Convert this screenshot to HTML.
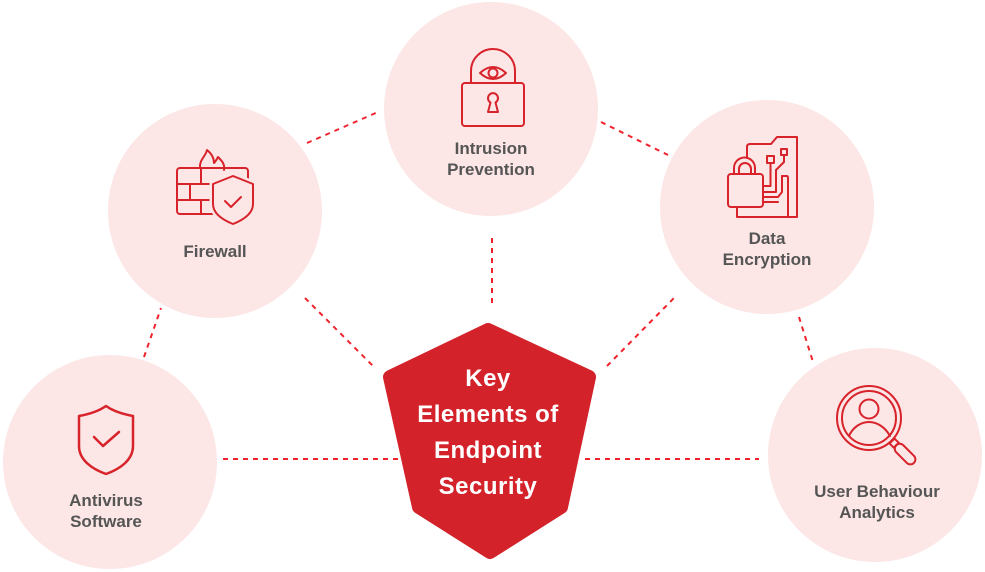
<!DOCTYPE html>
<html>
<head>
<meta charset="utf-8">
<style>
  html,body{margin:0;padding:0;background:#ffffff;}
  body{width:985px;height:572px;overflow:hidden;}
  svg{display:block;}
  .lbl{font-family:"Liberation Sans",Arial,sans-serif;font-weight:bold;font-size:17px;fill:#555555;}
  .hex{font-family:"Liberation Sans",Arial,sans-serif;font-weight:bold;font-size:24px;fill:#ffffff;letter-spacing:0.5px;}
  .ic{fill:none;stroke:#d8232b;stroke-width:2;stroke-linejoin:round;stroke-linecap:round;}
  .dash{stroke:#f0232d;stroke-width:2;stroke-dasharray:5 5;fill:none;}
</style>
</head>
<body>
<svg width="985" height="572" viewBox="0 0 985 572" xmlns="http://www.w3.org/2000/svg">
  <!-- dashed connectors -->
  <line class="dash" x1="144" y1="357" x2="161" y2="308"/>
  <line class="dash" x1="305" y1="298" x2="375" y2="368"/>
  <line class="dash" x1="307" y1="143" x2="378" y2="112"/>
  <line class="dash" x1="601" y1="122" x2="668" y2="155"/>
  <line class="dash" x1="607" y1="366" x2="674" y2="298"/>
  <line class="dash" x1="799" y1="317" x2="813" y2="362"/>
  <line class="dash" x1="492" y1="238" x2="492" y2="308"/>
  <line class="dash" x1="223" y1="459" x2="398" y2="459"/>
  <line class="dash" x1="585" y1="459" x2="759" y2="459"/>

  <!-- circles -->
  <g fill="#fce6e6">
    <circle cx="491" cy="109" r="107"/>
    <circle cx="215" cy="211" r="107"/>
    <circle cx="767" cy="207" r="107"/>
    <circle cx="110" cy="462" r="107"/>
    <circle cx="875" cy="455" r="107"/>
  </g>

  <!-- center hexagon -->
  <polygon points="488,330 589,377 561,507 490,552 419,507 390,377" fill="#d3222a" stroke="#d3222a" stroke-width="14" stroke-linejoin="round"/>
  <text class="hex" x="488" y="386" text-anchor="middle">Key</text>
  <text class="hex" x="488" y="422" text-anchor="middle">Elements of</text>
  <text class="hex" x="488" y="458" text-anchor="middle">Endpoint</text>
  <text class="hex" x="488" y="494" text-anchor="middle">Security</text>

  <!-- Intrusion Prevention icon -->
  <g class="ic">
    <rect x="462" y="83" width="62" height="43" rx="3"/>
    <path d="M471,83 V71 A22,22 0 0 1 515,71 V83"/>
    <path d="M480,73 Q493,61 506,73 Q493,85 480,73 Z"/>
    <circle cx="493" cy="73" r="4.5"/>
    <path d="M490.5,102.5 A5,5 0 1 1 495.5,102.5 L498,112 H488 Z"/>
  </g>
  <text class="lbl" x="491" y="154" text-anchor="middle">Intrusion</text>
  <text class="lbl" x="491" y="175" text-anchor="middle">Prevention</text>

  <!-- Firewall icon -->
  <g class="ic">
    <rect x="177" y="168" width="71" height="46" rx="3"/>
    <path d="M177,184 H213 M177,200 H213 M201,168 V184 M190,184 V200 M201,200 V214"/>
    <path d="M200,168 C199,160 206,156 207,150 C212,154 214,159 214,163 C216,161 217,159 218,157 C222,161 225,164 224,170"/>
  </g>
  <path d="M233,176 L253,184 V204 C253,214 243,220 233,224 C223,220 213,214 213,204 V184 Z" fill="#fce6e6" stroke="#fce6e6" stroke-width="7" stroke-linejoin="round"/>
  <g class="ic">
    <path d="M233,176 L253,184 V204 C253,214 243,220 233,224 C223,220 213,214 213,204 V184 Z"/>
    <path d="M225,201 L231,207 L241,197"/>
  </g>
  <text class="lbl" x="215" y="257" text-anchor="middle">Firewall</text>

  <!-- Data Encryption icon -->
  <g class="ic">
    <path d="M747,158 V147 Q747,144 750,144 H771 L777,137 H797 V217 H737 V207"/>
    <path d="M782,176 H787 Q788,176 788,178 V217"/>
    <rect x="728" y="174" width="35" height="33" rx="3"/>
    <path d="M734,174 V168 A10.5,10.5 0 0 1 755,168 V174"/>
    <path d="M739,174 V169 A6,6 0 0 1 751,169 V174"/>
    <rect x="767" y="156" width="7" height="7"/>
    <rect x="781" y="149" width="6" height="6"/>
    <path d="M770.5,163 V186 H763"/>
    <path d="M784,155 V162 L776,170 V192 H763"/>
    <path d="M782,176 V192 L778,197 H763"/>
    <path d="M763,202 H778"/>
  </g>
  <text class="lbl" x="767" y="244" text-anchor="middle">Data</text>
  <text class="lbl" x="767" y="265" text-anchor="middle">Encryption</text>

  <!-- Antivirus icon -->
  <g class="ic" style="stroke-width:2.5">
    <path d="M106,406 C99,411 90,414 79,416 V446 C79,460 92,469 106,474 C120,469 133,460 133,446 V416 C122,414 113,411 106,406 Z"/>
    <path d="M94,437 L103,446 L119,432"/>
  </g>
  <text class="lbl" x="106" y="506" text-anchor="middle">Antivirus</text>
  <text class="lbl" x="106" y="527" text-anchor="middle">Software</text>

  <!-- User Behaviour icon -->
  <g class="ic">
    <circle cx="869" cy="418" r="32"/>
    <circle cx="869" cy="418" r="27"/>
    <circle cx="869" cy="409" r="9.5"/>
    <path d="M849,436 C853,427 861,422 869,422 C877,422 885,427 890,436"/>
    <g transform="translate(892,441) rotate(45)">
      <rect x="0" y="-3.5" width="6" height="7"/>
      <rect x="6" y="-5" width="25" height="10" rx="5"/>
    </g>
  </g>
  <text class="lbl" x="877" y="497" text-anchor="middle">User Behaviour</text>
  <text class="lbl" x="877" y="518" text-anchor="middle">Analytics</text>
</svg>
</body>
</html>
